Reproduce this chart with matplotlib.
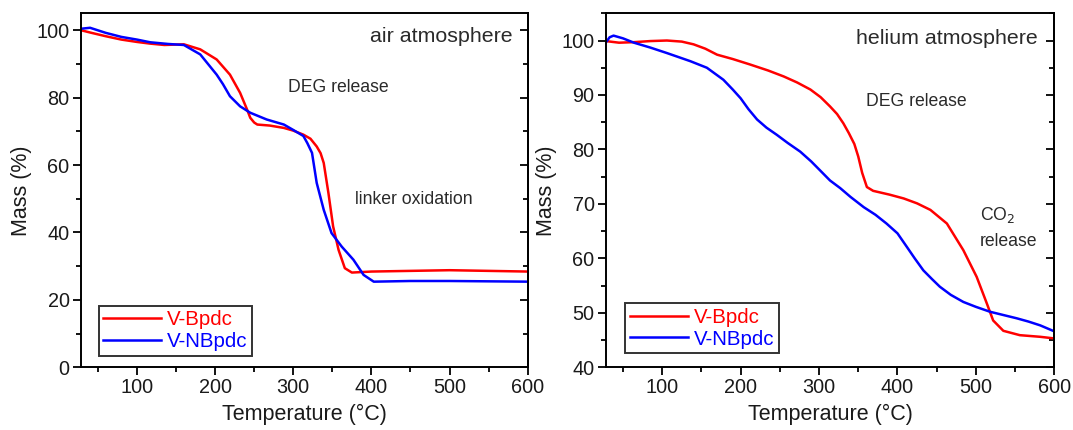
import matplotlib
matplotlib.use("Agg")
import matplotlib.pyplot as plt
from matplotlib.ticker import MultipleLocator

plt.rcParams['font.family'] = ['Liberation Sans', 'DejaVu Sans']

# ---- air atmosphere ----
air_red_T = [28, 40, 60, 80, 100, 117, 135, 160, 181, 202, 219, 232, 241, 245, 250, 254, 270, 288, 300,
             313, 322, 330, 335, 339, 345, 351, 358, 366, 375, 400, 450, 500, 550, 600]
air_red_M = [100, 99.3, 98.2, 97.2, 96.5, 96.0, 95.6, 95.8, 94.3, 91.3, 86.8, 81.4, 76.4, 74.0, 72.6, 72.0,
             71.7, 71.0, 70.2, 69.0, 67.8, 65.5, 63.5, 60.6, 51.7, 41.8, 34.8, 29.4, 28.1,
             28.4, 28.6, 28.8, 28.6, 28.4]
air_blue_T = [28, 40, 60, 80, 100, 117, 140, 160, 181, 202, 210, 219, 232, 245, 266, 288, 300, 313, 318,
              324, 330, 339, 349, 362, 377, 390, 403, 450, 500, 550, 600]
air_blue_M = [100.4, 100.7, 99.2, 98.0, 97.2, 96.4, 95.9, 95.6, 92.8, 86.8, 84.0, 80.4, 77.4, 75.5, 73.5,
              72.0, 70.4, 68.6, 66.5, 63.6, 54.7, 46.7, 39.8, 35.8, 31.9, 27.4, 25.4, 25.6, 25.6, 25.5, 25.4]

# ---- helium atmosphere ----
he_red_T = [28, 45, 64, 85, 106, 125, 140, 155, 170, 190, 212, 235, 255, 272, 289, 302, 314, 323, 331,
            338, 345, 350, 355, 361, 369, 390, 408, 425, 442, 463, 484, 501, 514, 522, 535, 556, 582, 600]
he_red_M = [99.9, 99.6, 99.7, 99.9, 100, 99.8, 99.3, 98.5, 97.4, 96.6, 95.6, 94.5, 93.4, 92.3, 91.0, 89.6,
            87.9, 86.5, 84.8, 83.0, 81.0, 78.7, 75.7, 73.1, 72.4, 71.7, 71.0, 70.1, 68.9, 66.4, 61.5,
            56.6, 51.7, 48.6, 46.7, 45.9, 45.6, 45.3]
he_blue_T = [28, 33, 38, 50, 64, 85, 106, 120, 136, 157, 178, 190, 200, 210, 221, 233, 246, 260, 276, 290,
             301, 314, 327, 340, 357, 372, 386, 400, 412, 422, 433, 444, 454, 468, 484, 500, 518, 535, 552,
             567, 582, 600]
he_blue_M = [99.6, 100.6, 100.9, 100.4, 99.6, 98.7, 97.7, 97.0, 96.2, 95.0, 92.8, 91.0, 89.4, 87.4, 85.5,
             84.0, 82.7, 81.2, 79.6, 77.8, 76.2, 74.3, 72.9, 71.3, 69.4, 68.0, 66.4, 64.6, 62.1, 60.0, 57.8,
             56.2, 54.8, 53.3, 52.0, 51.1, 50.2, 49.6, 49.0, 48.4, 47.7, 46.6]

series_names = ['V-Bpdc', 'V-NBpdc']
series_colors = ['#ff0000', '#0000ff']
x_label = 'Temperature (°C)'
y_label = 'Mass (%)'

fig = plt.figure(figsize=(10.73, 4.30), dpi=100)
axL = fig.add_axes([0.0752, 0.1458, 0.4166, 0.8233])
axR = fig.add_axes([0.5645, 0.1458, 0.4181, 0.8233])

def style(ax, xlim, ylim, ymaj, ymin):
    ax.set_xlim(*xlim)
    ax.set_ylim(*ylim)
    ax.xaxis.set_major_locator(MultipleLocator(100))
    ax.xaxis.set_minor_locator(MultipleLocator(50))
    ax.yaxis.set_major_locator(MultipleLocator(ymaj))
    ax.yaxis.set_minor_locator(MultipleLocator(ymin))
    ax.tick_params(which='both', direction='out', top=False, right=False, width=1.3, labelsize=14.3,
                   pad=2.5, labelcolor='#1a1a1a')
    ax.tick_params(which='major', length=5.5)
    ax.tick_params(which='minor', length=3.6)
    for s in ax.spines.values():
        s.set_linewidth(1.4)
    sec = ax.secondary_yaxis('right')
    sec.yaxis.set_major_locator(MultipleLocator(ymaj))
    sec.yaxis.set_minor_locator(MultipleLocator(ymin))
    sec.tick_params(which='both', direction='in', labelright=False, width=1.3)
    sec.tick_params(which='major', length=5.5)
    sec.tick_params(which='minor', length=3.6)
    sec.spines['right'].set_linewidth(1.4)
    ax.set_xlabel(x_label, fontsize=15.5, labelpad=5, color='#1a1a1a')
    ax.set_ylabel(y_label, fontsize=15.5, labelpad=3, color='#1a1a1a')

for ax, data in [(axL, [(air_red_T, air_red_M), (air_blue_T, air_blue_M)]),
                 (axR, [(he_red_T, he_red_M), (he_blue_T, he_blue_M)])]:
    for (T, M), name, c in zip(data, series_names, series_colors):
        ax.plot(T, M, color=c, lw=1.8, label=name, solid_joinstyle='round')

style(axL, (28, 600), (0, 105), 20, 10)
style(axR, (28, 600), (40, 105), 10, 5)

for ax, loc in [(axL, (0.040, 0.033)), (axR, (0.044, 0.040))]:
    leg = ax.legend(loc='lower left', bbox_to_anchor=loc, fontsize=14.8, frameon=True, fancybox=False,
                    edgecolor='black', handlelength=2.8, handletextpad=0.3, borderpad=0.22,
                    labelspacing=0.14, borderaxespad=0)
    leg.get_frame().set_linewidth(1.4)
    for t, c in zip(leg.get_texts(), series_colors):
        t.set_color(c)

tc = '#2a2a2a'
axL.text(581, 98.2, 'air atmosphere', ha='right', va='center', fontsize=15.4, color=tc)
axL.text(293, 83, 'DEG release', ha='left', va='center', fontsize=12.7, color=tc)
axL.text(379, 49.8, 'linker oxidation', ha='left', va='center', fontsize=12.7, color=tc)

axR.text(579, 100.4, 'helium atmosphere', ha='right', va='center', fontsize=15.4, color=tc)
axR.text(360, 88.8, 'DEG release', ha='left', va='center', fontsize=12.7, color=tc)
axR.text(505, 68, 'CO$_2$', ha='left', va='center', fontsize=12.7, color=tc)
axR.text(505, 63.1, 'release', ha='left', va='center', fontsize=12.7, color=tc)

fig.savefig('out.png', dpi=100)
